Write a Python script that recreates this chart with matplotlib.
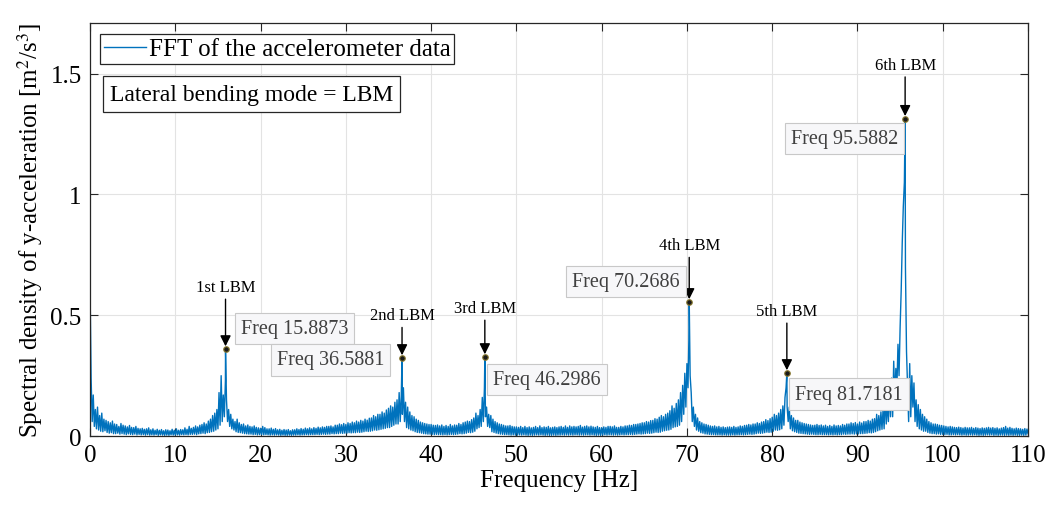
import numpy as np
import matplotlib
matplotlib.use("Agg")
from matplotlib import pyplot as plt

plt.rcParams['font.family'] = ['Liberation Serif', 'DejaVu Serif']
plt.rcParams['mathtext.fontset'] = 'stix'

# spectrum, in 1e-3 m^2/s^3, 0.125 Hz bins, one row per Hz
amp_rows = [
    [610, 240, 60, 170, 40, 110, 30, 120],   # 0
    [25, 85, 20, 95, 18, 70, 22, 65],
    [15, 60, 12, 55, 14, 62, 10, 50],
    [10, 48, 12, 40, 8, 52, 10, 45],
    [8, 42, 6, 38, 9, 44, 7, 36],
    [6, 35, 8, 40, 5, 32, 7, 30],            # 5
    [5, 32, 6, 28, 4, 30, 6, 34],
    [4, 26, 5, 30, 4, 24, 6, 28],
    [3, 24, 5, 27, 4, 22, 3, 26],
    [4, 25, 3, 22, 5, 28, 4, 24],
    [4, 30, 5, 24, 4, 27, 6, 26],            # 10
    [5, 34, 6, 28, 5, 40, 7, 32],
    [7, 36, 8, 42, 6, 38, 9, 45],
    [10, 48, 12, 55, 10, 50, 14, 62],
    [15, 70, 18, 85, 20, 95, 25, 110],
    [30, 180, 45, 250, 60, 170, 80, 230],    # 15
    [150, 60, 110, 40, 90, 30, 70, 25],
    [60, 18, 70, 15, 55, 14, 48, 12],
    [50, 10, 42, 9, 46, 8, 40, 8],
    [38, 6, 42, 7, 36, 5, 34, 6],
    [32, 6, 40, 5, 35, 6, 30, 5],            # 20
    [30, 4, 33, 5, 28, 4, 31, 5],
    [26, 4, 28, 3, 24, 4, 27, 3],
    [25, 3, 27, 4, 22, 3, 26, 4],
    [26, 4, 30, 5, 27, 4, 31, 5],
    [28, 5, 33, 6, 30, 5, 34, 6],            # 25
    [30, 6, 35, 6, 32, 7, 37, 6],
    [34, 7, 38, 8, 36, 7, 40, 8],
    [40, 8, 42, 10, 38, 9, 45, 10],
    [45, 10, 50, 12, 47, 11, 52, 12],
    [48, 12, 55, 14, 52, 13, 58, 14],        # 30
    [55, 14, 62, 16, 58, 15, 65, 16],
    [62, 18, 70, 20, 66, 19, 74, 20],
    [75, 22, 85, 25, 80, 24, 90, 26],
    [90, 28, 100, 30, 95, 32, 108, 35],
    [115, 35, 125, 40, 120, 45, 140, 50],    # 35
    [150, 50, 180, 60, 170, 90, 200, 60],
    [140, 35, 120, 30, 100, 25, 85, 22],
    [80, 18, 70, 15, 65, 14, 58, 12],
    [55, 10, 52, 9, 50, 8, 48, 8],
    [48, 7, 45, 6, 44, 7, 46, 6],            # 40
    [42, 6, 46, 5, 40, 6, 44, 5],
    [40, 6, 48, 7, 42, 6, 46, 7],
    [45, 8, 52, 10, 48, 9, 55, 10],
    [58, 12, 62, 15, 60, 14, 68, 16],
    [75, 20, 95, 30, 85, 35, 110, 40],       # 45
    [160, 60, 200, 80, 120, 40, 90, 35],
    [85, 18, 70, 15, 60, 12, 55, 10],
    [50, 8, 48, 7, 45, 6, 42, 6],
    [42, 5, 44, 4, 40, 5, 38, 4],
    [38, 4, 36, 5, 40, 4, 35, 5],            # 50
    [40, 4, 35, 3, 38, 4, 34, 3],
    [36, 4, 40, 5, 35, 4, 42, 5],
    [35, 4, 38, 3, 36, 4, 40, 3],
    [34, 3, 36, 4, 38, 3, 35, 4],
    [38, 4, 40, 5, 36, 4, 42, 5],            # 55
    [36, 4, 42, 5, 38, 4, 40, 5],
    [38, 5, 40, 4, 44, 5, 37, 4],
    [40, 5, 42, 5, 38, 4, 41, 5],
    [38, 4, 36, 3, 40, 4, 35, 3],
    [35, 4, 38, 5, 36, 4, 40, 5],            # 60
    [40, 5, 38, 4, 42, 5, 36, 4],
    [36, 5, 40, 6, 38, 5, 42, 6],
    [42, 6, 45, 7, 44, 6, 48, 7],
    [48, 8, 50, 9, 52, 8, 55, 9],
    [55, 10, 60, 12, 58, 11, 64, 12],        # 65
    [65, 14, 72, 16, 70, 15, 78, 16],
    [85, 20, 80, 22, 90, 24, 95, 25],
    [105, 28, 125, 35, 115, 38, 135, 40],
    [150, 45, 180, 60, 210, 90, 260, 120],
    [300, 200, 450, 250, 180, 60, 120, 40],  # 70
    [90, 25, 75, 20, 60, 14, 55, 12],
    [50, 9, 48, 8, 45, 7, 42, 6],
    [40, 6, 42, 5, 38, 5, 40, 5],
    [36, 4, 38, 5, 35, 4, 37, 4],
    [38, 4, 36, 5, 40, 4, 36, 5],            # 75
    [38, 5, 42, 6, 40, 5, 44, 6],
    [45, 7, 48, 8, 46, 7, 50, 8],
    [50, 10, 55, 12, 52, 11, 58, 12],
    [60, 14, 68, 16, 64, 15, 72, 16],
    [78, 20, 90, 25, 85, 24, 95, 26],        # 80
    [110, 30, 125, 45, 160, 200, 120, 60],
    [120, 30, 85, 22, 75, 18, 65, 15],
    [65, 12, 58, 11, 55, 10, 52, 9],
    [50, 8, 48, 7, 46, 8, 44, 7],
    [45, 6, 48, 6, 44, 7, 46, 6],            # 85
    [42, 6, 45, 6, 40, 5, 44, 6],
    [40, 5, 46, 6, 42, 5, 44, 6],
    [42, 6, 48, 8, 45, 7, 50, 8],
    [50, 8, 55, 9, 52, 8, 56, 9],
    [50, 9, 58, 10, 54, 10, 60, 11],         # 90
    [60, 12, 65, 14, 62, 13, 70, 15],
    [72, 18, 90, 22, 85, 25, 100, 28],
    [110, 30, 170, 50, 140, 60, 200, 80],
    [240, 80, 310, 150, 280, 200, 380, 250],
    [450, 600, 800, 950, 1050, 700, 350, 200],  # 95
    [60, 300, 80, 250, 120, 220, 60, 150],
    [40, 130, 30, 110, 25, 90, 20, 80],
    [20, 70, 15, 60, 12, 55, 10, 50],
    [10, 50, 8, 48, 9, 45, 7, 44],
    [7, 42, 6, 40, 7, 38, 5, 40],            # 100
    [5, 38, 6, 36, 5, 35, 6, 37],
    [5, 35, 4, 33, 5, 36, 4, 34],
    [4, 34, 5, 36, 4, 32, 5, 35],
    [4, 33, 3, 31, 4, 34, 3, 32],
    [4, 34, 5, 36, 4, 33, 5, 35],            # 105
    [3, 32, 4, 34, 3, 30, 4, 33],
    [4, 35, 3, 40, 4, 33, 3, 36],
    [4, 32, 3, 30, 4, 33, 3, 31],
    [3, 30, 4, 28, 3, 31, 4, 29],
]
amp_last = [10]  # 110 Hz

# picked peaks (data tips)
peak_freq = [15.8873, 36.5881, 46.2986, 70.2686, 81.7181, 95.5882]
peak_amp = [0.360, 0.323, 0.327, 0.555, 0.261, 1.313]
peak_names = ['1st LBM', '2nd LBM', '3rd LBM', '4th LBM', '5th LBM', '6th LBM']

amps = np.concatenate([np.ravel(amp_rows), amp_last]) / 1000.0
freqs = np.arange(len(amps)) * 0.125

f_all = np.concatenate([freqs, peak_freq])
a_all = np.concatenate([amps, peak_amp])
order = np.argsort(f_all)
f_all, a_all = f_all[order], a_all[order]

fig = plt.figure(figsize=(10.52, 5.10), dpi=100)
ax = fig.add_axes([0.0856, 0.143, 0.8916, 0.810])

line_col = '#0072BD'
ax.plot(f_all, a_all, color=line_col, lw=1.0, label='FFT of the accelerometer data')

ax.set_xlim(0, 110)
ax.set_ylim(0, 1.71)
ax.set_xticks(np.arange(0, 111, 10))
ax.set_yticks([0, 0.5, 1, 1.5])
ax.set_yticklabels(['0', '0.5', '1', '1.5'])
ax.grid(True, color='#e3e3e3', lw=0.8)
ax.set_axisbelow(True)
ax.tick_params(direction='in', top=True, right=True, labelsize=18, length=6,
               color='#262626', pad=6)
for s in ax.spines.values():
    s.set_color('#262626')
    s.set_linewidth(0.9)

ax.set_xlabel('Frequency [Hz]', fontsize=18, labelpad=2)
ax.set_ylabel('Spectral density of y-acceleration [m$^2$/s$^3$]', fontsize=18, labelpad=4)

# label text height, datatip box anchor (x, y, ha)
label_y = [0.617, 0.50, 0.53, 0.79, 0.518, 1.537]
tip_pos = [(17.7, 0.447, 'left'), (34.5, 0.315, 'right'), (47.3, 0.236, 'left'),
           (69.2, 0.638, 'right'), (82.7, 0.174, 'left'), (94.75, 1.23, 'right')]

for f, a, name, ly, (tx, ty, ha) in zip(peak_freq, peak_amp, peak_names, label_y, tip_pos):
    ax.annotate(name, xy=(f, a), xytext=(f, ly), ha='center', va='center',
                fontsize=12, color='k',
                arrowprops=dict(arrowstyle='-|>', color='k', lw=1.0,
                                mutation_scale=16, shrinkA=1, shrinkB=2))
    ax.plot(f, a, 'o', ms=4, mfc='#1a1a1a', mec='#8a7a30', mew=0.8, zorder=5)
    ax.text(tx, ty, f'Freq {f:.4f}', ha=ha, va='center', fontsize=14.5,
            color='#404040',
            bbox=dict(boxstyle='square,pad=0.3', fc='#f7f7f9', ec='#c8c8c8', lw=0.8))

leg = ax.legend(loc='upper left', bbox_to_anchor=(0.0107, 0.973), borderaxespad=0,
                fontsize=18, fancybox=False, handlelength=1.7, handletextpad=0.1,
                borderpad=0.15, framealpha=1)
leg.get_frame().set_edgecolor('#262626')
leg.get_frame().set_linewidth(0.9)

ax.text(0.021, 0.828, 'Lateral bending mode = LBM', transform=ax.transAxes,
        ha='left', va='center', fontsize=17,
        bbox=dict(boxstyle='square,pad=0.3', fc='white', ec='#262626', lw=0.9))

fig.savefig('out.png', dpi=100)
